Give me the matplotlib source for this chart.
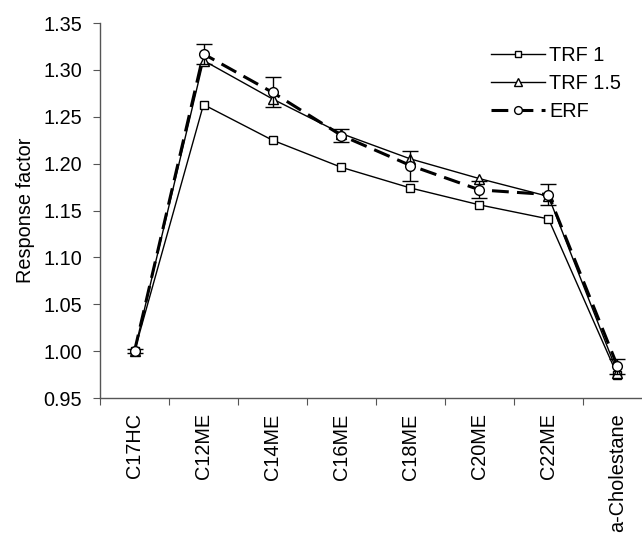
import matplotlib
matplotlib.use("Agg")
import matplotlib.pyplot as plt
import numpy as np

plt.rcParams['font.family'] = ['Liberation Sans', 'DejaVu Sans']

categories = ["C17HC", "C12ME", "C14ME", "C16ME", "C18ME", "C20ME", "C22ME", "a-Cholestane"]
trf1 = [1.000, 1.263, 1.225, 1.196, 1.174, 1.156, 1.141, 0.974]
trf15 = [1.000, 1.310, 1.269, 1.232, 1.205, 1.184, 1.165, 0.977]
erf = [1.000, 1.317, 1.276, 1.230, 1.198, 1.172, 1.167, 0.984]
erf_err = [0.002, 0.011, 0.016, 0.007, 0.016, 0.009, 0.011, 0.008]
yticks = [0.95, 1.00, 1.05, 1.10, 1.15, 1.20, 1.25, 1.30, 1.35]

FS = 14.3
fig = plt.figure(figsize=(6.42, 5.37), dpi=100)
ax = fig.add_axes([100/642, 1-398/537, 552/642, 375/537])
x = np.arange(len(categories))

ax.plot(x, trf1, '-', color='black', lw=1.0, marker='s', ms=6, mfc='white', mec='black', mew=1.0, label='TRF 1', zorder=3)
ax.plot(x, trf15, '-', color='black', lw=1.0, marker='^', ms=6.5, mfc='white', mec='black', mew=1.0, label='TRF 1.5', zorder=3)
ax.errorbar(x, erf, yerr=erf_err, fmt='none', ecolor='black', elinewidth=1.0, capsize=6, capthick=1.0, zorder=4)
ax.plot(x, erf, '--', color='black', lw=2.2, dashes=(5.5, 2.7), marker='o', ms=7, mfc='white', mec='black', mew=1.0, label='ERF', zorder=5)

ax.set_xlim(-0.5, len(categories) - 0.5)
ax.set_ylim(0.95, 1.35)
ax.set_yticks(yticks)
ax.set_yticklabels([f"{v:.2f}" for v in yticks], fontsize=FS)
ax.set_xticks(np.arange(len(categories) + 1) - 0.5)
ax.set_xticklabels([])
ax.set_xticks(x, minor=True)
ax.set_xticklabels(categories, minor=True, rotation=90, fontsize=FS)
ax.tick_params(axis='x', which='minor', length=0, pad=11)
ax.tick_params(axis='x', which='major', length=5, direction='out', color='#555555')
ax.tick_params(axis='y', length=5, direction='out', color='#555555', pad=8)

for s in ['top', 'right']:
    ax.spines[s].set_visible(False)
for s in ['left', 'bottom']:
    ax.spines[s].set_color('#555555')
    ax.spines[s].set_linewidth(1.0)

ax.set_ylabel("Response factor", fontsize=FS, labelpad=6)

leg = ax.legend(frameon=False, loc='upper left', bbox_to_anchor=(473/642, 1-28/537),
                bbox_transform=fig.transFigure, fontsize=FS, handlelength=2.7,
                handletextpad=0.25, labelspacing=0.45, markerscale=0.8)

fig.savefig("out.png", dpi=100)
